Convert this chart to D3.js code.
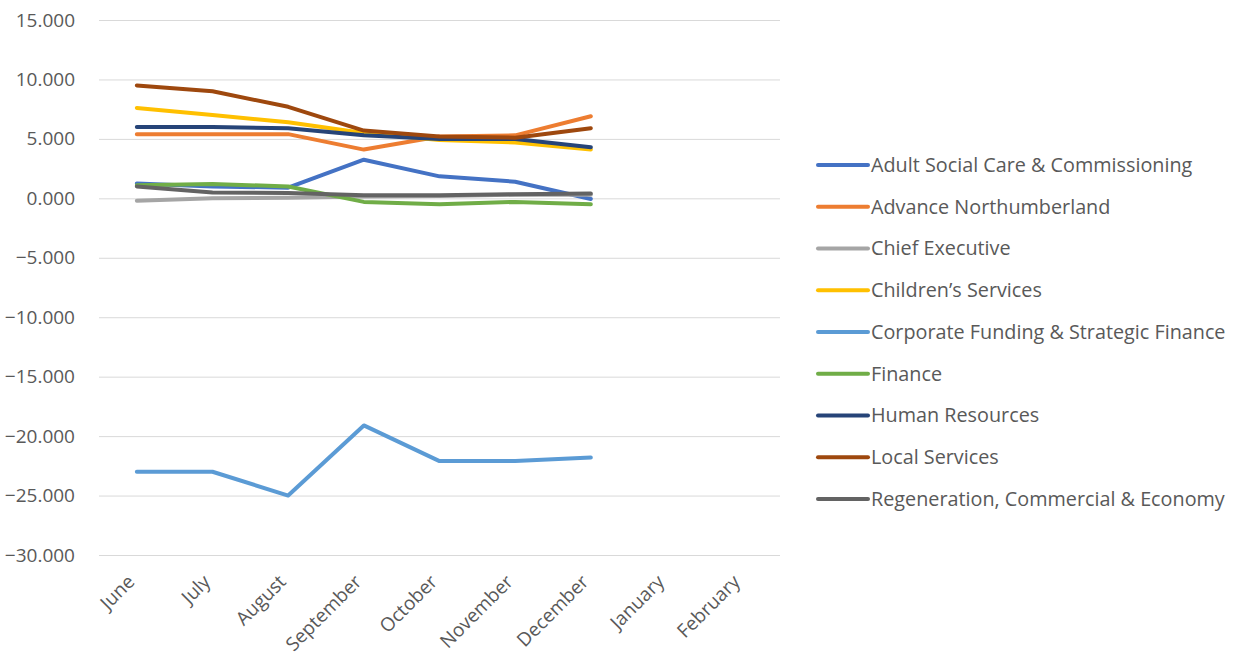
<!DOCTYPE html>
<html>
<head>
<meta charset="utf-8">
<script src="https://cdn.jsdelivr.net/npm/d3@7"></script>
<style>
  body { margin: 0; background: #fff; }
  text { font-family: "Open Sans", sans-serif; fill: #595959; }
</style>
</head>
<body>
<svg width="1240" height="668"></svg>
<script>
// months on the category axis (only the first 7 have values)
var months = ["June", "July", "August", "September", "October", "November", "December", "January", "February"];

var directorates = [
  "Adult Social Care & Commissioning",
  "Advance Northumberland",
  "Chief Executive",
  "Children\u2019s Services",
  "Corporate Funding & Strategic Finance",
  "Finance",
  "Human Resources",
  "Local Services",
  "Regeneration, Commercial & Economy"
];

var colours = ["#4472C4", "#ED7D31", "#A5A5A5", "#FFC000", "#5B9BD5", "#70AD47", "#264478", "#9E480E", "#636363"];

// values, June..December
var adultSocial   = [1.25, 1.0, 0.9, 3.25, 1.85, 1.4, -0.05];
var advanceNland  = [5.4, 5.4, 5.4, 4.1, 5.2, 5.3, 6.9];
var chiefExec     = [-0.2, 0.0, 0.05, 0.15, 0.2, 0.3, 0.3];
var childrens     = [7.6, 7.0, 6.4, 5.5, 4.9, 4.7, 4.1];
var corpFunding   = [-23.0, -23.0, -25.0, -19.1, -22.1, -22.1, -21.8];
var finance       = [1.1, 1.2, 1.0, -0.3, -0.5, -0.3, -0.5];
var humanRes      = [6.0, 6.0, 5.9, 5.3, 5.0, 5.0, 4.3];
var localServices = [9.5, 9.0, 7.7, 5.7, 5.2, 5.1, 5.9];
var regeneration  = [1.0, 0.5, 0.45, 0.25, 0.25, 0.35, 0.4];

var yTicks = [15, 10, 5, 0, -5, -10, -15, -20, -25, -30];

var seriesValues = [adultSocial, advanceNland, chiefExec, childrens, corpFunding,
                    finance, humanRes, localServices, regeneration];

var series = directorates.map(function (name, i) {
  return {name: name, colour: colours[i], values: seriesValues[i]};
});

var svg = d3.select("svg");
var plot = {left: 99, right: 780, top: 20, bottom: 555};

var x = d3.scaleBand().domain(months).range([plot.left, plot.right]);
var y = d3.scaleLinear().domain([-30, 15]).range([plot.bottom, plot.top]);

// gridlines + y labels
var yAxis = svg.append("g")
    .attr("transform", "translate(" + plot.left + ",0)")
    .call(d3.axisLeft(y).tickValues(yTicks)
        .tickSize(-(plot.right - plot.left))
        .tickPadding(24)
        .tickFormat(d3.format(".3f")));
yAxis.select(".domain").remove();
yAxis.selectAll("line").attr("stroke", "#d9d9d9");
yAxis.selectAll("text")
    .style("font-size", "19px")
    .attr("fill", "#595959");

// month labels, rotated
var xAxis = svg.append("g")
    .attr("transform", "translate(0," + plot.bottom + ")")
    .call(d3.axisBottom(x).tickSize(0).tickPadding(0));
xAxis.select(".domain").remove();
xAxis.selectAll("text")
    .style("font-size", "19px")
    .attr("fill", "#595959")
    .attr("text-anchor", "end")
    .attr("dy", 0)
    .attr("transform", "translate(-1,28) rotate(-45)");

var line = d3.line()
    .x(function (d, i) { return x(months[i]) + x.bandwidth() / 2; })
    .y(function (d) { return y(d); });

svg.append("g").selectAll("path")
  .data(series)
  .join("path")
    .attr("d", function (d) { return line(d.values); })
    .attr("fill", "none")
    .attr("stroke", function (d) { return d.colour; })
    .attr("stroke-width", 4)
    .attr("stroke-linecap", "round")
    .attr("stroke-linejoin", "round");

// legend
var legend = svg.append("g").attr("transform", "translate(818,165)");
var item = legend.selectAll("g")
  .data(series)
  .join("g")
    .attr("transform", function (d, i) { return "translate(0," + (i * 41.75) + ")"; });
item.append("line")
    .attr("x1", 0).attr("x2", 50)
    .attr("stroke", function (d) { return d.colour; })
    .attr("stroke-width", 4)
    .attr("stroke-linecap", "round");
item.append("text")
    .attr("x", 53)
    .attr("dy", "0.35em")
    .style("font-size", "19.8px")
    .text(function (d) { return d.name; });
</script>
</body>
</html>
